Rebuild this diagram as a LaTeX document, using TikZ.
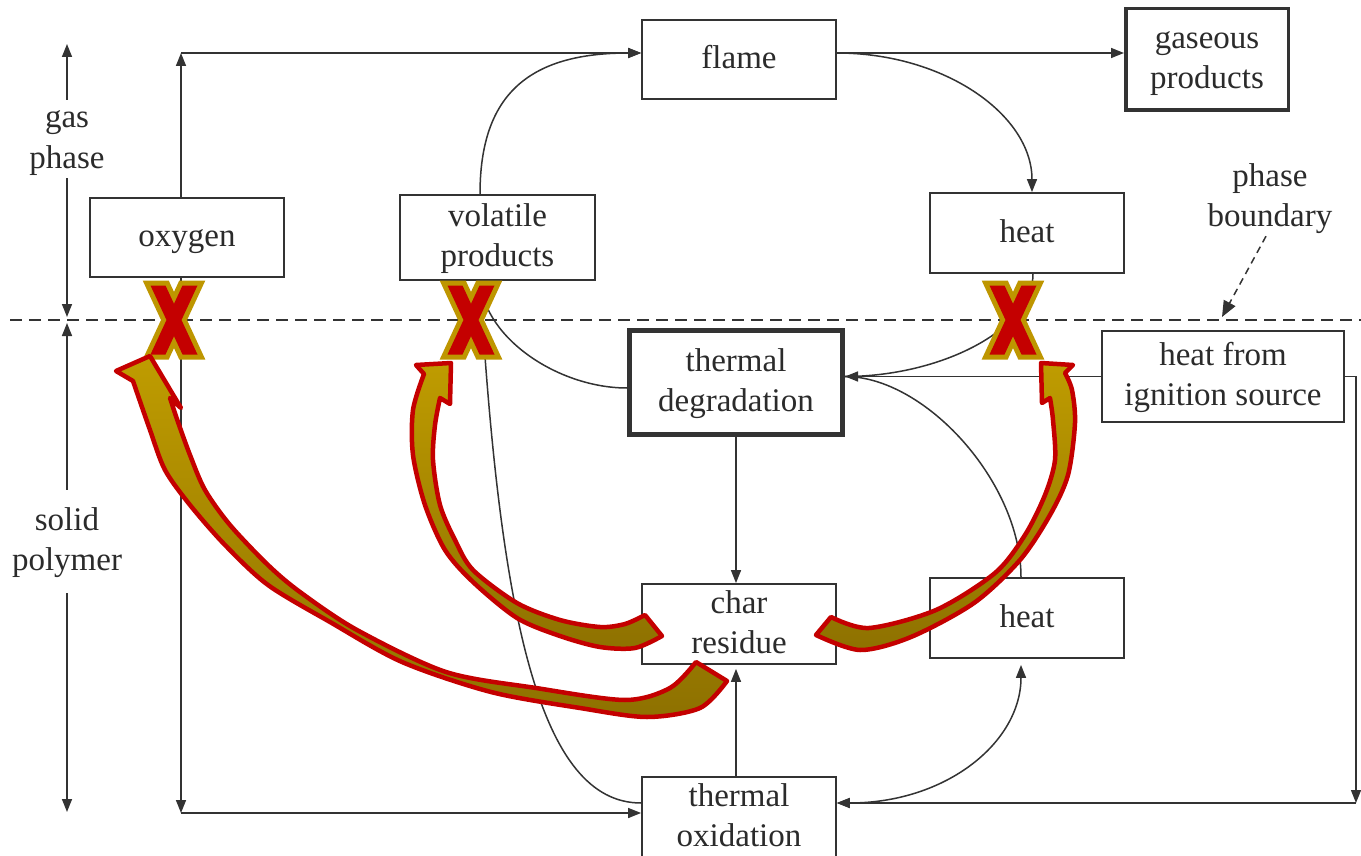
\documentclass[tikz,border=0pt]{standalone}
\usepackage{fontspec}
\setmainfont{Liberation Serif}
\usetikzlibrary{arrows.meta}
\definecolor{ln}{HTML}{333333}
\definecolor{txt}{HTML}{2B2B2B}
\definecolor{xred}{HTML}{C40000}
\definecolor{xgold}{HTML}{BE9600}
\definecolor{atop}{HTML}{BF9C00}
\definecolor{abot}{HTML}{8E7100}
\begin{document}
\begin{tikzpicture}[x=1pt,y=-1pt,
  font=\fontsize{33}{40}\selectfont,
  box/.style={draw=ln, line width=1.8pt, inner sep=0pt, align=center, text=txt, fill=white},
  one/.style={text height=24pt, text depth=6pt},
  two/.style={text height=64pt, text depth=6pt},
  heavybox/.style={box, line width=3.5pt},
  heaviestbox/.style={box, line width=5pt},
  lbl/.style={align=center, inner sep=0pt, text=txt, two},
  conn/.style={draw=ln, line width=1.5pt},
  arr/.style={conn, -{Triangle[length=13pt,width=10pt]}},
  darr/.style={conn, {Triangle[length=13pt,width=10pt]}-{Triangle[length=13pt,width=10pt]}},
  bound/.style={draw=ln, line width=2pt, dash pattern=on 12pt off 7pt},
  pbarr/.style={conn, -{Triangle[length=16pt,width=13pt]}, dash pattern=on 7pt off 5pt},
  xmark/.style={fill=xred, preaction={draw=xgold, line width=10pt, line join=miter}},
  bigarrow/.style={draw=xred, line width=4.5pt, line join=round, top color=atop, bottom color=abot},
  xcross/.pic={\path[xmark] (-23.5,-34.5) -- (-8.5,-34.5) -- (0,-16.2) -- (8.5,-34.5) -- (23.5,-34.5) -- (7.5,0) -- (23.5,34.5) -- (8.5,34.5) -- (0,16.2) -- (-8.5,34.5) -- (-23.5,34.5) -- (-7.5,0) -- cycle;}
]
\useasboundingbox (0,0) rectangle (1361,856);

% boxes
\node[box, one, minimum width=194pt, minimum height=79pt] (oxy) at (187,237.5) {oxygen};
\node[box, two, minimum width=195pt, minimum height=85pt] (vol) at (497.5,237.5) {volatile\\products};
\node[box, one, minimum width=194pt, minimum height=79pt] (flame) at (739,59.5) {flame};
\node[heavybox, two, minimum width=162.5pt, minimum height=101.5pt] (gas) at (1207,59.5) {gaseous\\products};
\node[box, one, minimum width=194pt, minimum height=80pt] (heat1) at (1027,233) {heat};
\node[heaviestbox, two, minimum width=213pt, minimum height=104pt] (thdeg) at (736,382.5) {thermal\\degradation};
\node[box, two, minimum width=242pt, minimum height=91pt] (ign) at (1223,376.5) {heat from\\ignition source};
\node[box, two, minimum width=194pt, minimum height=80pt] (char) at (739,624) {char\\residue};
\node[box, one, minimum width=194pt, minimum height=80pt] (heat2) at (1027,618) {heat};
\node[box, two, minimum width=194pt, minimum height=80pt] (thox) at (739,817) {thermal\\oxidation};

% side labels
\node[lbl, minimum height=78pt] (gasL) at (67,139) {gas\\phase};
\node[lbl, minimum height=103pt] (solL) at (67,541.5) {solid\\polymer};
\node[lbl] (pbL) at (1270,197) {phase\\boundary};

\coordinate (gtop) at (67,44);
\coordinate (gbot) at (67,317);
\coordinate (stop) at (67,323);
\coordinate (sbot) at (67,812);
\draw[arr] (gasL.north) -- (gtop);
\draw[arr] (gasL.south) -- (gbot);
\draw[arr] (solL.north) -- (stop);
\draw[arr] (solL.south) -- (sbot);

% phase boundary
\coordinate (bl) at (10,320);
\coordinate (br) at (1361,320);
\draw[bound] (bl) -- (br);
\coordinate (pbtip) at (1222,317);
\draw[pbarr] ([xshift=-4pt,yshift=-4pt]pbL.south) -- (pbtip);

% connectors
\coordinate (c1) at (181,53);
\draw[arr] (oxy.north -| c1) -- (c1);
\draw[arr] (c1) -- (flame.west |- c1);
\draw[arr] ([xshift=-17.5pt]vol.north) .. controls +(0,-99) and +(-113,0) .. (flame.west |- c1);
\draw[arr] (flame.east |- c1) -- (gas.west |- c1);
\draw[arr] (flame.east |- c1) .. controls +(108,0) and +(0,-77) .. ([xshift=5pt]heat1.north);

\coordinate (tdin) at (thdeg.east |- ign.west);
\draw[arr] (ign.west) -- (tdin);
\draw[conn] ([xshift=6pt]heat1.south) .. controls +(0,56) and +(95,0) .. (tdin);
\draw[conn] ([xshift=-6pt]heat2.north) .. controls +(0,-95) and +(80,0) .. (tdin);
\draw[arr] (thdeg.south) -- (thdeg.south |- char.north);
\draw[arr, shorten >=4pt] (thdeg.south |- thox.north) -- (thdeg.south |- char.south);

\coordinate (c3) at (1356,803);
\draw[arr] (ign.east) -| (c3);
\coordinate (toxR) at (thox.east |- c3);
\draw[arr] (c3) -- (toxR);
\draw[darr, shorten >=6pt] (toxR) .. controls +(110,0) and +(0,83) .. ([xshift=-6pt]heat2.south);

\coordinate (c4) at (181,813);
\draw[arr] (oxy.south -| c4) -- (c4);
\draw[arr] (c4) -- (thox.west |- c4);
\draw[conn] ([xshift=-17.5pt]vol.south) .. controls +(5,59) and +(-67,0) .. ([yshift=-5.5pt]thdeg.west);
\draw[conn] ([xshift=-17.5pt]vol.south) .. controls +(20,339) and +(-101,0) .. ([yshift=14pt]thox.west);

% red crosses
\pic at (174,320) {xcross};
\pic at (471,320) {xcross};
\pic at (1013,320) {xcross};

% big curved arrows
\path[bigarrow] plot[smooth] coordinates {(727,681) (700,708) (647,717) (580,708) (491,692) (402,662) (330,622) (268,585) (225,545) (190,505) (165,470) (150,430) (133,381)}
  -- (116,371) -- (150,356) -- (181,408) -- (170,398)
  -- plot[smooth] coordinates {(170,398) (178,422) (190,455) (205,490) (230,525) (268,565) (300,592) (357,630) (446,672) (536,688) (625,700) (670,688) (696,662)} -- cycle;

\path[bigarrow] plot[smooth] coordinates {(662,636) (635,648) (600,647) (560,636) (517,618) (473,582) (445,550) (425,505) (413,455) (413,410) (424,374)}
  -- (416,365) -- (451,363) -- (450,404) -- (440,398)
  -- plot[smooth] coordinates {(440,398) (435,425) (433,460) (440,505) (455,540) (473,570) (517,603) (560,620) (600,627) (625,624) (645,615)} -- cycle;

\path[bigarrow] plot[smooth] coordinates {(816,635) (860,650) (911,637) (974,603) (1020,560) (1050,515) (1068,475) (1075,423) (1072,390) (1065,373)}
  -- (1073,365) -- (1041,363) -- (1042,403) -- (1050,398)
  -- plot[smooth] coordinates {(1050,398) (1053,420) (1055,460) (1045,495) (1025,535) (995,573) (936,610) (869,628) (831,617)} -- cycle;
\end{tikzpicture}
\end{document}
